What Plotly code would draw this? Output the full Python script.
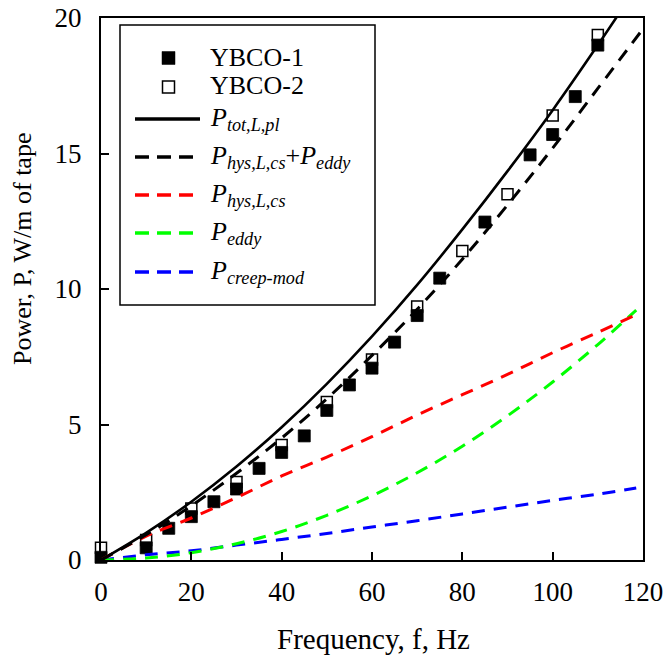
import plotly.graph_objects as go

# ---------------- data ----------------
f_ybco1 = [0, 10, 15, 20, 25, 30, 35, 40, 45, 50, 55, 60, 65, 70, 75, 85, 95, 100, 105, 110]
p_ybco1 = [0.1, 0.45, 1.17, 1.6, 2.15, 2.62, 3.38, 3.97, 4.58, 5.52, 6.46, 7.08, 8.04, 9.02, 10.4, 12.47, 14.95, 15.7, 17.1, 19.0]

f_ybco2 = [0, 10, 20, 30, 40, 50, 60, 70, 80, 90, 100, 110]
p_ybco2 = [0.45, 0.74, 1.9, 2.88, 4.24, 5.83, 7.4, 9.35, 11.4, 13.5, 16.4, 19.37]

f_model = [0, 10, 20, 30, 40, 50, 60, 70, 80, 90, 100, 110, 120]
p_tot = [0, 1.0, 2.15, 3.45, 4.9, 6.5, 8.25, 10.15, 12.2, 14.35, 16.6, 19.0, 21.5]
p_hys_eddy = [0, 0.93, 2.0, 3.2, 4.5, 5.95, 7.55, 9.25, 11.1, 13.1, 15.2, 17.4, 19.6]

f_comp = [0, 10, 20, 30, 40, 50, 60, 70, 80, 90, 100, 110, 118.5]
p_hys = [0, 0.88, 1.55, 2.3, 3.1, 3.8, 4.55, 5.35, 6.1, 6.85, 7.65, 8.4, 9.05]
p_eddy = [0, 0.07, 0.27, 0.6, 1.05, 1.65, 2.37, 3.22, 4.2, 5.32, 6.57, 7.95, 9.22]
p_creep = [0, 0.19, 0.34, 0.55, 0.76, 0.98, 1.22, 1.45, 1.7, 1.95, 2.2, 2.43, 2.66]

x_ticks = [0, 20, 40, 60, 80, 100, 120]
y_ticks = [0, 5, 10, 15, 20]

legend_labels = [
    "YBCO-1",
    "YBCO-2",
    "<i>P<sub>tot,L,pl</sub></i>",
    "<i>P<sub>hys,L,cs</sub></i>+<i>P<sub>eddy</sub></i>",
    "<i>P<sub>hys,L,cs</sub></i>",
    "<i>P<sub>eddy</sub></i>",
    "<i>P<sub>creep-mod</sub></i>",
]

# ---------------- layout geometry ----------------
W, H = 667, 664
ML, MR, MT, MB = 101, 24, 18, 104
PW, PH = W - ML - MR, H - MT - MB
FONT = "Liberation Serif"


def px(xp):
    return (xp - ML) / PW


def py(yp):
    return (H - MB - yp) / PH


fig = go.Figure()

# open squares first (filled squares overlap them)
fig.add_trace(go.Scatter(
    x=f_ybco2, y=p_ybco2, mode="markers", name="YBCO-2", cliponaxis=False,
    marker=dict(symbol="square", size=11, color="white", line=dict(color="black", width=1.5)),
))
fig.add_trace(go.Scatter(
    x=f_ybco1, y=p_ybco1, mode="markers", name="YBCO-1", cliponaxis=False,
    marker=dict(symbol="square", size=12, color="black", line=dict(color="black", width=0.8)),
))

DASH = "13px,9px"
fig.add_trace(go.Scatter(x=f_comp, y=p_creep, mode="lines", name="P_creep-mod",
                         line=dict(color="#0000FF", width=3, dash=DASH, shape="spline")))
fig.add_trace(go.Scatter(x=f_comp, y=p_eddy, mode="lines", name="P_eddy",
                         line=dict(color="#00FF00", width=3, dash=DASH, shape="spline")))
fig.add_trace(go.Scatter(x=f_comp, y=p_hys, mode="lines", name="P_hys,L,cs",
                         line=dict(color="#FF0000", width=3, dash=DASH, shape="spline")))
fig.add_trace(go.Scatter(x=f_model, y=p_hys_eddy, mode="lines", name="P_hys,L,cs+P_eddy",
                         line=dict(color="black", width=3, dash=DASH, shape="spline")))
fig.add_trace(go.Scatter(x=f_model, y=p_tot, mode="lines", name="P_tot,L,pl",
                         line=dict(color="black", width=2.6, shape="spline")))

axis_common = dict(
    showline=True, linecolor="black", linewidth=2, mirror=True,
    ticks="inside", ticklen=8, tickwidth=1.5, tickcolor="black",
    showgrid=False, zeroline=False, automargin=False,
    tickfont=dict(family=FONT, size=27, color="black"),
)
fig.update_xaxes(range=[0, 120], tickvals=x_ticks, ticktext=[str(v) for v in x_ticks],
                 ticklabelstandoff=7, **axis_common)
fig.update_yaxes(range=[0, 20], tickvals=y_ticks, ticktext=[str(v) for v in y_ticks],
                 ticklabelstandoff=12, **axis_common)

shapes = []
annotations = []

# legend box
shapes.append(dict(type="rect", xref="paper", yref="paper", layer="above",
                   x0=px(120), x1=px(375), y0=py(305), y1=py(25),
                   line=dict(color="black", width=1.5), fillcolor="white"))
# marker samples
shapes.append(dict(type="rect", xref="paper", yref="paper", layer="above",
                   x0=px(162), x1=px(175), y0=py(64.5), y1=py(51.5),
                   line=dict(color="black", width=0.5), fillcolor="black"))
shapes.append(dict(type="rect", xref="paper", yref="paper", layer="above",
                   x0=px(162.5), x1=px(174.5), y0=py(93), y1=py(81),
                   line=dict(color="black", width=1.5), fillcolor="white"))
# line samples
line_rows = [(119, "black", None), (157, "black", "14px,8px"), (195, "#FF0000", "14px,8px"),
             (233, "#00FF00", "14px,8px"), (272, "#0000FF", "14px,8px")]
for yl, col, dsh in line_rows:
    ln = dict(color=col, width=3.5)
    if dsh:
        ln["dash"] = dsh
    shapes.append(dict(type="line", xref="paper", yref="paper", layer="above",
                       x0=px(135), x1=px(200) if dsh is None else px(194), y0=py(yl), y1=py(yl), line=ln))

label_y = [57, 86, 119, 157, 195, 233, 272]
for txt, yl in zip(legend_labels, label_y):
    annotations.append(dict(text=txt, xref="paper", yref="paper", x=px(208), y=py(yl),
                            xanchor="left", yanchor="middle", showarrow=False,
                            font=dict(family=FONT, size=26, color="black")))

# axis titles
annotations.append(dict(text="Frequency, f, Hz", xref="paper", yref="paper",
                        x=px(373), y=py(639), xanchor="center", yanchor="middle",
                        showarrow=False, font=dict(family=FONT, size=29, color="black")))
annotations.append(dict(text="Power, P, W/m of tape", xref="paper", yref="paper",
                        x=px(22), y=py(249), xanchor="center", yanchor="middle", textangle=-90,
                        showarrow=False, font=dict(family=FONT, size=26, color="black")))

fig.update_layout(
    width=W, height=H,
    margin=dict(l=ML, r=MR, t=MT, b=MB, pad=0, autoexpand=False),
    paper_bgcolor="white", plot_bgcolor="white",
    showlegend=False,
    shapes=shapes, annotations=annotations,
    font=dict(family=FONT, color="black"),
)

fig.write_html(
    "out.html",
    config={"displayModeBar": False},
    post_script="document.body.style.margin='0';document.body.style.padding='0';"
                "document.body.style.overflow='hidden';"
                "document.documentElement.style.overflow='hidden';",
)
